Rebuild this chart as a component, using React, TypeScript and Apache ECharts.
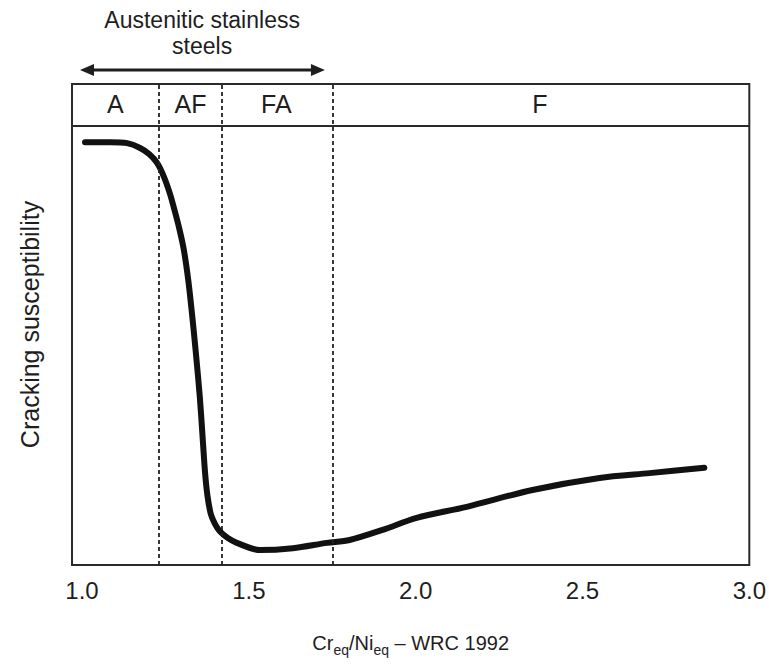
import React, { useEffect, useRef } from "react";
import * as echarts from "echarts";

const xMin = 0.97;
const xMax = 3.0;
const xTickValues = [1.0, 1.5, 2.0, 2.5, 3.0];
const zoneBoundaries = [1.23, 1.42, 1.745];
const zoneNames = ["A", "AF", "FA", "F"];
const headerLineY = 91.3;
const zoneLabelY = 95.9;

const curveX = [1.009, 1.084, 1.135, 1.174, 1.202, 1.225, 1.245, 1.263, 1.278, 1.292, 1.305, 1.318, 1.33, 1.342, 1.353, 1.362, 1.369, 1.376, 1.386, 1.398, 1.413, 1.437, 1.464, 1.533, 1.632, 1.734, 1.802, 1.901, 2.003, 2.153, 2.35, 2.551, 2.701, 2.865];
const curveY = [87.9, 87.9, 87.7, 86.7, 85.4, 83.6, 80.8, 77.3, 73.6, 69.8, 65.6, 59.5, 52.0, 43.5, 35.0, 26.0, 19.0, 14.4, 10.6, 8.6, 7.0, 5.6, 4.6, 3.1, 3.5, 4.6, 5.2, 7.3, 9.8, 12.1, 15.6, 18.1, 19.1, 20.2];

const arrowFromX = 0.994;
const arrowToX = 1.728;
const arrowY = 102.9;
const noteLines = ["Austenitic stainless", "steels"];
const noteX = 1.36;
const noteY = [113.3, 107.9];

const FONT = "'Liberation Sans', Arial, Helvetica, sans-serif";
const INK = "#1e1e1e";

export default function App() {
  const ref = useRef<HTMLDivElement>(null);
  useEffect(() => {
    if (!ref.current) return;
    const chart = echarts.init(ref.current, null, { renderer: "svg" });
    const edges = [xMin, ...zoneBoundaries, xMax];
    const zoneData = zoneNames.map((n, i) => ({
      value: [(edges[i] + edges[i + 1]) / 2, zoneLabelY],
      name: n,
    }));
    const option: any = {
      animation: false,
      textStyle: { fontFamily: FONT },
      grid: {
        left: 72,
        right: 19,
        top: 84,
        bottom: 99,
        show: true,
        borderColor: "#2a2a2a",
        borderWidth: 2,
        backgroundColor: "transparent",
      },
      xAxis: {
        type: "value",
        min: xMin,
        max: xMax,
        axisLine: { show: false },
        axisTick: { show: false },
        splitLine: { show: false },
        axisLabel: {
          customValues: xTickValues,
          formatter: (v: number) => v.toFixed(1),
          fontSize: 24,
          color: INK,
          margin: 13,
          fontFamily: FONT,
        },
        name: "{t|Cr}{s|eq}{t|/Ni}{s|eq}{t| – WRC 1992}",
        nameLocation: "middle",
        nameGap: 64,
        nameTextStyle: {
          rich: {
            t: { fontSize: 20, color: INK, fontFamily: FONT },
            s: { fontSize: 14, color: INK, fontFamily: FONT, padding: [14, 0, 0, 0] },
          },
        },
      },
      yAxis: {
        type: "value",
        min: 0,
        max: 100,
        axisLine: { show: false },
        axisTick: { show: false },
        splitLine: { show: false },
        axisLabel: { show: false },
        name: "Cracking susceptibility",
        nameLocation: "middle",
        nameGap: 30,
        nameTextStyle: { fontSize: 25, color: INK, fontFamily: FONT },
      },
      series: [
        {
          type: "line",
          data: curveX.map((x, i) => [x, curveY[i]]),
          showSymbol: false,
          smooth: 0.3,
          lineStyle: { color: "#111", width: 6, cap: "round", join: "round" },
          z: 3,
          markLine: {
            silent: true,
            symbol: ["none", "none"],
            label: { show: false },
            data: [
              ...zoneBoundaries.map((b) => ({
                xAxis: b,
                lineStyle: { type: [4, 3], color: "#222", width: 1.8 },
              })),
              {
                yAxis: headerLineY,
                lineStyle: { type: "solid", color: "#2a2a2a", width: 2 },
              },
            ],
          },
        },
        {
          type: "scatter",
          data: zoneData,
          symbolSize: 0,
          itemStyle: { opacity: 1 },
          silent: true,
          label: {
            show: true,
            position: "inside",
            formatter: (p: any) => p.name,
            fontSize: 25,
            color: INK,
            opacity: 1,
            textBorderWidth: 0,
            fontFamily: FONT,
          },
        },
      ],
    };
    chart.setOption(option);
    const a = chart.convertToPixel({ gridIndex: 0 }, [arrowFromX, arrowY]) as number[];
    const b = chart.convertToPixel({ gridIndex: 0 }, [arrowToX, arrowY]) as number[];
    const head = 14;
    const hw = 6;
    const texts = noteLines.map((t, i) => {
      const p = chart.convertToPixel({ gridIndex: 0 }, [noteX, noteY[i]]) as number[];
      return {
        type: "text",
        x: p[0],
        y: p[1],
        style: {
          text: t,
          fontSize: 23,
          fill: INK,
          fontFamily: FONT,
          textAlign: "center",
          textVerticalAlign: "middle",
        },
      };
    });
    chart.setOption({
      graphic: [
        {
          type: "line",
          shape: { x1: a[0] + head - 2, y1: a[1], x2: b[0] - head + 2, y2: b[1] },
          style: { stroke: INK, lineWidth: 3 },
        },
        {
          type: "polygon",
          shape: { points: [[a[0], a[1]], [a[0] + head, a[1] - hw], [a[0] + head, a[1] + hw]] },
          style: { fill: INK },
        },
        {
          type: "polygon",
          shape: { points: [[b[0], b[1]], [b[0] - head, b[1] - hw], [b[0] - head, b[1] + hw]] },
          style: { fill: INK },
        },
        ...texts,
      ],
    });
    return () => chart.dispose();
  }, []);
  return (
    <div
      ref={ref}
      style={{ position: "fixed", left: 0, top: 0, width: 769, height: 664, background: "#fff" }}
    />
  );
}
